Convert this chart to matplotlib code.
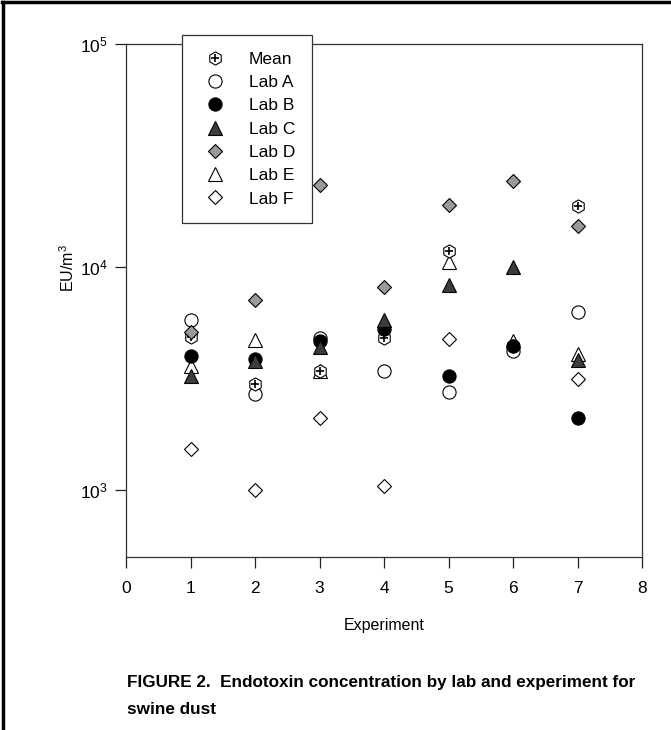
import numpy as np
import matplotlib
matplotlib.use('Agg')
import matplotlib.pyplot as plt
from matplotlib.lines import Line2D
from matplotlib.ticker import NullLocator, FixedLocator

plt.rcParams['font.family'] = ['Liberation Sans', 'DejaVu Sans']
plt.rcParams['mathtext.default'] = 'regular'

experiments = [1, 2, 3, 4, 5, 6, 7]
mean = [4850, 2980, 3400, 4800, 11800, 4400, 18800]
lab_a = [5800, 2700, 4800, 3430, 2750, 4180, 6250]
lab_b = [3970, 3850, 4650, 5260, 3230, 4420, 2100]
lab_c = [3230, 3780, 4380, 5790, 8310, 10030, 3810]
lab_d = [5100, 7120, 23300, 8100, 18950, 24300, 15300]
lab_e = [3580, 4680, 3400, np.nan, 10560, 4670, 4070]
lab_f = [1520, 1000, 2100, 1037, 4760, np.nan, 3140]

fig = plt.figure(figsize=(6.71, 7.3), dpi=100)
ax = fig.add_axes([126 / 671, 1 - 557 / 730, (642 - 126) / 671, (557 - 44) / 730])

ms = 9.5
kw = dict(linestyle='none', markeredgecolor='black', markeredgewidth=0.8)

h_a, = ax.plot(experiments, lab_a, marker='o', markersize=ms, markerfacecolor='none', **kw)
h_e, = ax.plot(experiments, lab_e, marker='^', markersize=ms, markerfacecolor='none', **kw)
h_f, = ax.plot(experiments, lab_f, marker='D', markersize=7.5, markerfacecolor='none', **kw)
h_mean, = ax.plot(experiments, mean, marker='h', markersize=ms, markerfacecolor='white', **kw)
h_plus, = ax.plot(experiments, mean, marker='+', markersize=6, linestyle='none',
                  color='black', markeredgewidth=1.2)
h_b, = ax.plot(experiments, lab_b, marker='o', markersize=ms, markerfacecolor='black', **kw)
h_c, = ax.plot(experiments, lab_c, marker='^', markersize=ms, markerfacecolor='#3c3c3c', **kw)
h_d, = ax.plot(experiments, lab_d, marker='D', markersize=7.5, markerfacecolor='#9a9a9a', **kw)

ax.set_yscale('log')
ax.set_xlim(0, 8)
ax.set_ylim(500, 1e5)
ax.xaxis.set_major_locator(FixedLocator(range(0, 9)))
ax.yaxis.set_major_locator(FixedLocator([1e3, 1e4, 1e5]))
ax.yaxis.set_minor_locator(NullLocator())
ax.tick_params(direction='out', length=8, width=0.9, labelsize=12.5, colors='#222222',
               labelcolor='black')
ax.tick_params(axis='x', pad=9)
ax.tick_params(axis='y', pad=5)
for s in ax.spines.values():
    s.set_linewidth(0.9)
    s.set_color('#333333')

ax.set_xlabel('Experiment', fontsize=11.5, labelpad=16)
ax.set_ylabel('EU/m$^3$', fontsize=11.5)
ax.yaxis.set_label_coords(-0.094, 0.563)

leg = ax.legend([(h_mean, h_plus), h_a, h_b, h_c, h_d, h_e, h_f],
                ['Mean', 'Lab A', 'Lab B', 'Lab C', 'Lab D', 'Lab E', 'Lab F'],
                loc='upper left', bbox_to_anchor=(182 / 671, 1 - 35 / 730),
                bbox_transform=fig.transFigure, fancybox=False, framealpha=1,
                edgecolor='#333333', fontsize=12.5, labelspacing=0.47,
                handlelength=1.9, handletextpad=1.0, borderpad=0.95, borderaxespad=0)
leg.get_frame().set_linewidth(0.9)

# page frame lines
fig.add_artist(Line2D([0.003, 1], [0.997, 0.997], color='black', linewidth=2.5,
                      transform=fig.transFigure))
fig.add_artist(Line2D([0.004, 0.004], [0, 0.997], color='black', linewidth=2.5,
                      transform=fig.transFigure))

fig.text(127 / 671, 1 - 683 / 730,
         'FIGURE 2.  Endotoxin concentration by lab and experiment for',
         fontsize=12.3, fontweight='bold', va='center', ha='left')
fig.text(127 / 671, 1 - 710 / 730, 'swine dust',
         fontsize=12.3, fontweight='bold', va='center', ha='left')

fig.savefig('out.png', dpi=100)
